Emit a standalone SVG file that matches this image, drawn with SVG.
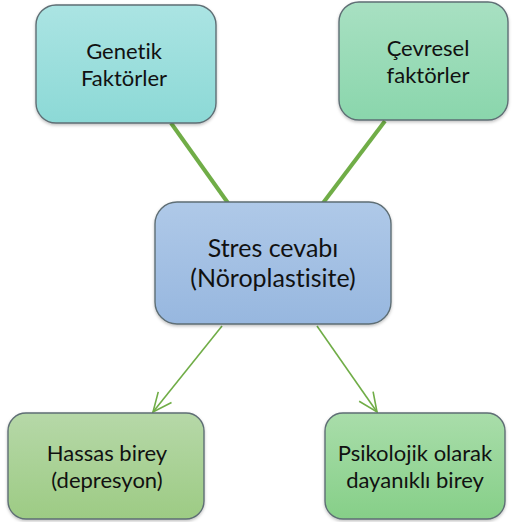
<svg xmlns="http://www.w3.org/2000/svg" width="513" height="522" viewBox="0 0 513 522">
  <defs>
    <linearGradient id="gTeal" x1="0" y1="0" x2="0" y2="1">
      <stop offset="0" stop-color="#ABE4E3"/>
      <stop offset="1" stop-color="#8CD9D6"/>
    </linearGradient>
    <linearGradient id="gMint" x1="0" y1="0" x2="0" y2="1">
      <stop offset="0" stop-color="#A8E0C2"/>
      <stop offset="1" stop-color="#8AD6AC"/>
    </linearGradient>
    <linearGradient id="gBlue" x1="0" y1="0" x2="0" y2="1">
      <stop offset="0" stop-color="#AFC9E8"/>
      <stop offset="1" stop-color="#97B7DF"/>
    </linearGradient>
    <linearGradient id="gOlive" x1="0" y1="0" x2="0" y2="1">
      <stop offset="0" stop-color="#B6D8A8"/>
      <stop offset="1" stop-color="#9DCB84"/>
    </linearGradient>
    <linearGradient id="gGreen" x1="0" y1="0" x2="0" y2="1">
      <stop offset="0" stop-color="#A9DDAA"/>
      <stop offset="1" stop-color="#86CF88"/>
    </linearGradient>
    <filter id="shadow" x="-10%" y="-10%" width="120%" height="125%">
      <feDropShadow dx="0" dy="1.5" stdDeviation="1.5" flood-color="#000" flood-opacity="0.25"/>
    </filter>
    <marker id="arrow" markerUnits="userSpaceOnUse" markerWidth="24" markerHeight="24" refX="0" refY="0" viewBox="-20 -12 24 24" orient="auto">
      <path d="M-19,-8.5 L0,0 L-19,8.5" fill="none" stroke="#70AD47" stroke-width="1.6"/>
    </marker>
  </defs>
  <style>
    .box { stroke: #5E6E74; stroke-width: 1.4; filter: url(#shadow); }
    .lbl { font-family: Lato, "Open Sans", sans-serif; font-size: 22px; fill: #111; text-anchor: middle; font-variant-ligatures: none; }
    .big { font-size: 25px; }
    .thick { stroke: #70AD47; stroke-width: 4; fill: none; }
    .thin { stroke: #70AD47; stroke-width: 1.6; fill: none; marker-end: url(#arrow); }
  </style>

  <g id="connectors">
    <line class="thick" x1="171" y1="123" x2="228" y2="203"/>
    <line class="thick" x1="385" y1="121" x2="323" y2="203"/>
    <line class="thin" x1="222" y1="326" x2="153" y2="412"/>
    <line class="thin" x1="317" y1="326" x2="377" y2="412"/>
  </g>

  <g id="genetik">
    <rect class="box" x="36" y="5" width="180" height="118" rx="20" fill="url(#gTeal)"/>
    <text class="lbl" x="124" y="59">Genetik</text>
    <text class="lbl" x="124" y="86">Faktörler</text>
  </g>

  <g id="cevresel">
    <rect class="box" x="339" y="2" width="169" height="118" rx="20" fill="url(#gMint)"/>
    <text class="lbl" x="428" y="56">Çevresel</text>
    <text class="lbl" x="428" y="83">faktörler</text>
  </g>

  <g id="stres">
    <rect class="box" x="155" y="202" width="236" height="122" rx="22" fill="url(#gBlue)"/>
    <text class="lbl big" x="273" y="257">Stres cevabı</text>
    <text class="lbl big" x="273" y="287">(Nöroplastisite)</text>
  </g>

  <g id="hassas">
    <rect class="box" x="8" y="413" width="196" height="106" rx="18" fill="url(#gOlive)"/>
    <text class="lbl" x="107" y="461">Hassas birey</text>
    <text class="lbl" x="107" y="488">(depresyon)</text>
  </g>

  <g id="dayanikli">
    <rect class="box" x="325" y="413" width="180" height="106" rx="18" fill="url(#gGreen)"/>
    <text class="lbl" x="415" y="461">Psikolojik olarak</text>
    <text class="lbl" x="415" y="488">dayanıklı birey</text>
  </g>
</svg>
